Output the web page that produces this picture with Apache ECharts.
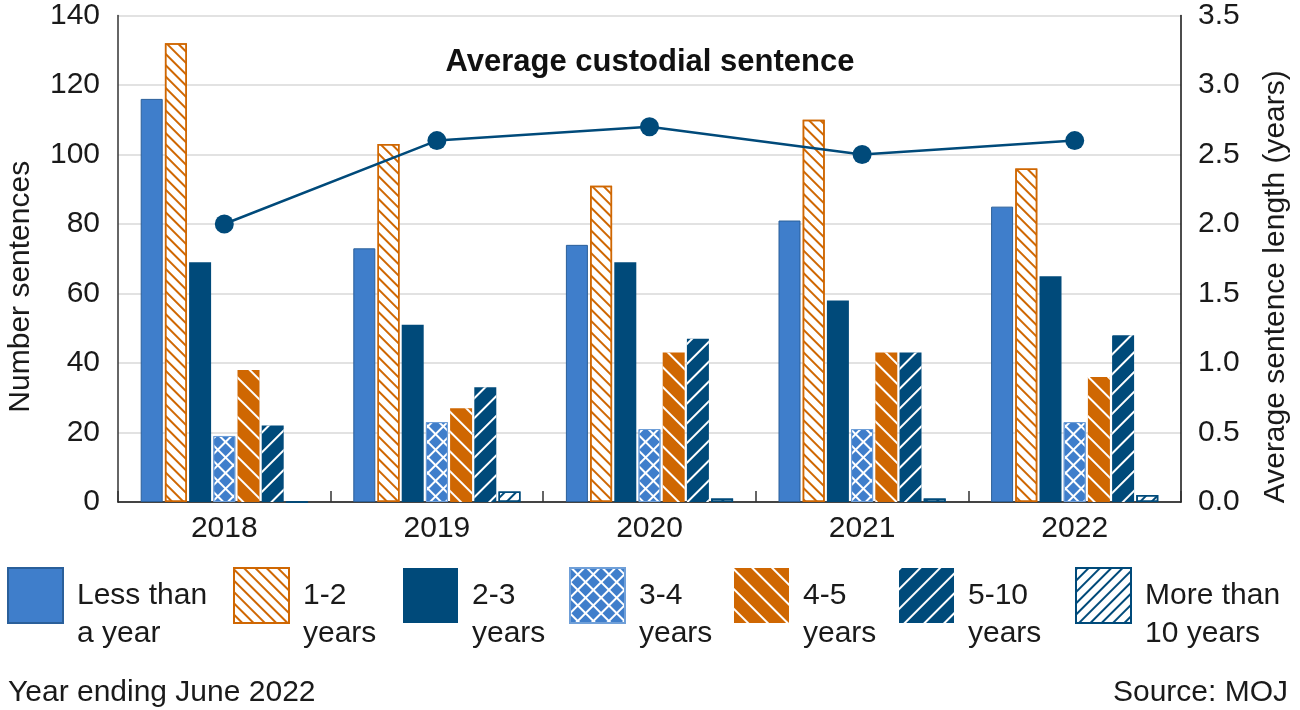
<!DOCTYPE html>
<html>
<head>
<meta charset="utf-8">
<script src="https://cdn.jsdelivr.net/npm/echarts@6/dist/echarts.min.js"></script>
<style>
  html, body { margin: 0; padding: 0; background: #fff; }
  #chart { width: 1300px; height: 710px; }
</style>
</head>
<body>
<div id="chart"></div>
<script>
// data
const years = ['2018', '2019', '2020', '2021', '2022'];
const bandNames = ['Less than\na year', '1-2\nyears', '2-3\nyears', '3-4\nyears', '4-5\nyears', '5-10\nyears', 'More than\n10 years'];
const lessThanYear = [116, 73, 74, 81, 85];
const oneToTwo = [132, 103, 91, 110, 96];
const twoToThree = [69, 51, 69, 58, 65];
const threeToFour = [19, 23, 21, 21, 23];
const fourToFive = [38, 27, 43, 43, 36];
const fiveToTen = [22, 33, 47, 43, 48];
const moreThanTen = [0, 3, 1, 1, 2];
const avgSentence = [2.0, 2.6, 2.7, 2.5, 2.6];

const BLUE = '#3f7ecb';
const NAVY = '#004a7a';
const ORANGE = '#cf6702';
const FONT = '"Liberation Sans", Arial, sans-serif';
const FS = 30;

const chart = echarts.init(document.getElementById('chart'), null, { renderer: 'canvas' });

function hatch(color, thick, gap, rot) {
  return {
    symbol: 'rect',
    symbolSize: 1,
    color: color,
    dashArrayX: [1, 0],
    dashArrayY: [thick, gap],
    rotation: rot
  };
}

const BACK = Math.PI / 4;    // "\" lines
const FWD = -Math.PI / 4;    // "/" lines

const styles = [
  { color: BLUE, borderColor: '#2a5f9a', borderWidth: 1 },
  { color: '#fff', borderColor: ORANGE, borderWidth: 1.5, decal: hatch(ORANGE, 1.6, 5.4, BACK) },
  { color: NAVY, borderColor: NAVY, borderWidth: 0 },
  { color: '#fff', borderColor: '#6f9fd8', borderWidth: 1, decal: {
      symbol: 'rect', symbolSize: 1, color: BLUE,
      dashArrayX: [8.5, 1.6], dashArrayY: [8.5, 1.6], rotation: Math.PI / 4 } },
  { color: ORANGE, borderWidth: 0, decal: hatch('#fff', 1.5, 11.5, BACK) },
  { color: NAVY, borderWidth: 0, decal: hatch('#fff', 1.5, 11.5, FWD) },
  { color: '#fff', borderColor: NAVY, borderWidth: 1.5, decal: hatch(NAVY, 1.6, 5.4, FWD) }
];
const values = [lessThanYear, oneToTwo, twoToThree, threeToFour, fourToFive, fiveToTen, moreThanTen];

const barSeries = values.map((v, i) => ({
  name: bandNames[i],
  type: 'bar',
  yAxisIndex: 0,
  barWidth: 22,
  barGap: '10%',
  itemStyle: styles[i],
  emphasis: { disabled: true },
  data: v
}));

// one legend per item so the icons sit where the reference has them
const legendLeft = [7, 233, 403, 569, 734, 899, 1075];
const legends = bandNames.map((n, i) => ({
  data: [{ name: n, icon: 'rect' }],
  left: legendLeft[i],
  top: 538.5,
  padding: 0,
  itemWidth: 55,
  itemHeight: 55,
  selectedMode: false,
  // leading blank line puts the first text line level with the icon centre
  formatter: name => '\n' + name,
  textStyle: {
    fontFamily: FONT,
    fontSize: FS,
    color: '#1a1a1a',
    lineHeight: 38,
    padding: [0, 0, 0, 9]
  }
}));

const option = {
  animation: false,
  backgroundColor: '#fff',
  textStyle: { fontFamily: FONT },
  title: [{
    text: 'Average custodial sentence',
    left: 'center',
    top: 47,
    padding: 0,
    textStyle: { fontFamily: FONT, fontSize: 31, fontWeight: 'bold', color: '#111' }
  }],
  legend: legends,
  graphic: [
    { type: 'text', left: 8, top: 678, style: { text: 'Year ending June 2022', font: FS + 'px ' + FONT, fill: '#1a1a1a' } },
    { type: 'text', right: 12, top: 678, style: { text: 'Source: MOJ', font: FS + 'px ' + FONT, fill: '#1a1a1a' } }
  ],
  grid: { left: 118, right: 119, top: 15.5, bottom: 208, containLabel: false, outerBoundsMode: 'none' },
  xAxis: {
    type: 'category',
    data: years,
    axisLine: { lineStyle: { color: '#111', width: 1.5 } },
    axisTick: { show: true, inside: true, length: 11, lineStyle: { color: '#333', width: 1.5 } },
    axisLabel: { fontFamily: FONT, fontSize: FS, color: '#1a1a1a', margin: 12 }
  },
  yAxis: [{
    type: 'value',
    min: 0,
    max: 140,
    interval: 20,
    name: 'Number sentences',
    nameLocation: 'middle',
    nameGap: 82,
    nameTextStyle: { fontFamily: FONT, fontSize: FS, color: '#1a1a1a', padding: [0, 56, 0, 0] },
    axisLine: { show: true, lineStyle: { color: '#333', width: 1.5 } },
    axisTick: { show: false },
    axisLabel: { fontFamily: FONT, fontSize: FS, color: '#1a1a1a', margin: 18 },
    splitLine: { lineStyle: { color: '#d9d9d9', width: 1.5 } }
  }, {
    type: 'value',
    min: 0,
    max: 3.5,
    interval: 0.5,
    position: 'right',
    name: 'Average sentence length (years)',
    nameLocation: 'middle',
    nameGap: 80,
    nameRotate: 90,
    nameTextStyle: { fontFamily: FONT, fontSize: FS, color: '#1a1a1a', padding: [0, 56, 0, 0] },
    axisLine: { show: true, lineStyle: { color: '#111', width: 1.5 } },
    axisTick: { show: false },
    axisLabel: { fontFamily: FONT, fontSize: FS, color: '#1a1a1a', margin: 17, formatter: v => v.toFixed(1) },
    splitLine: { show: false }
  }],
  series: barSeries.concat([{
    name: 'Average custodial sentence',
    type: 'line',
    yAxisIndex: 1,
    symbol: 'circle',
    symbolSize: 19,
    z: 5,
    lineStyle: { color: NAVY, width: 2.5 },
    itemStyle: { color: NAVY },
    emphasis: { disabled: true },
    data: avgSentence
  }])
};

chart.setOption(option);
</script>
</body>
</html>
